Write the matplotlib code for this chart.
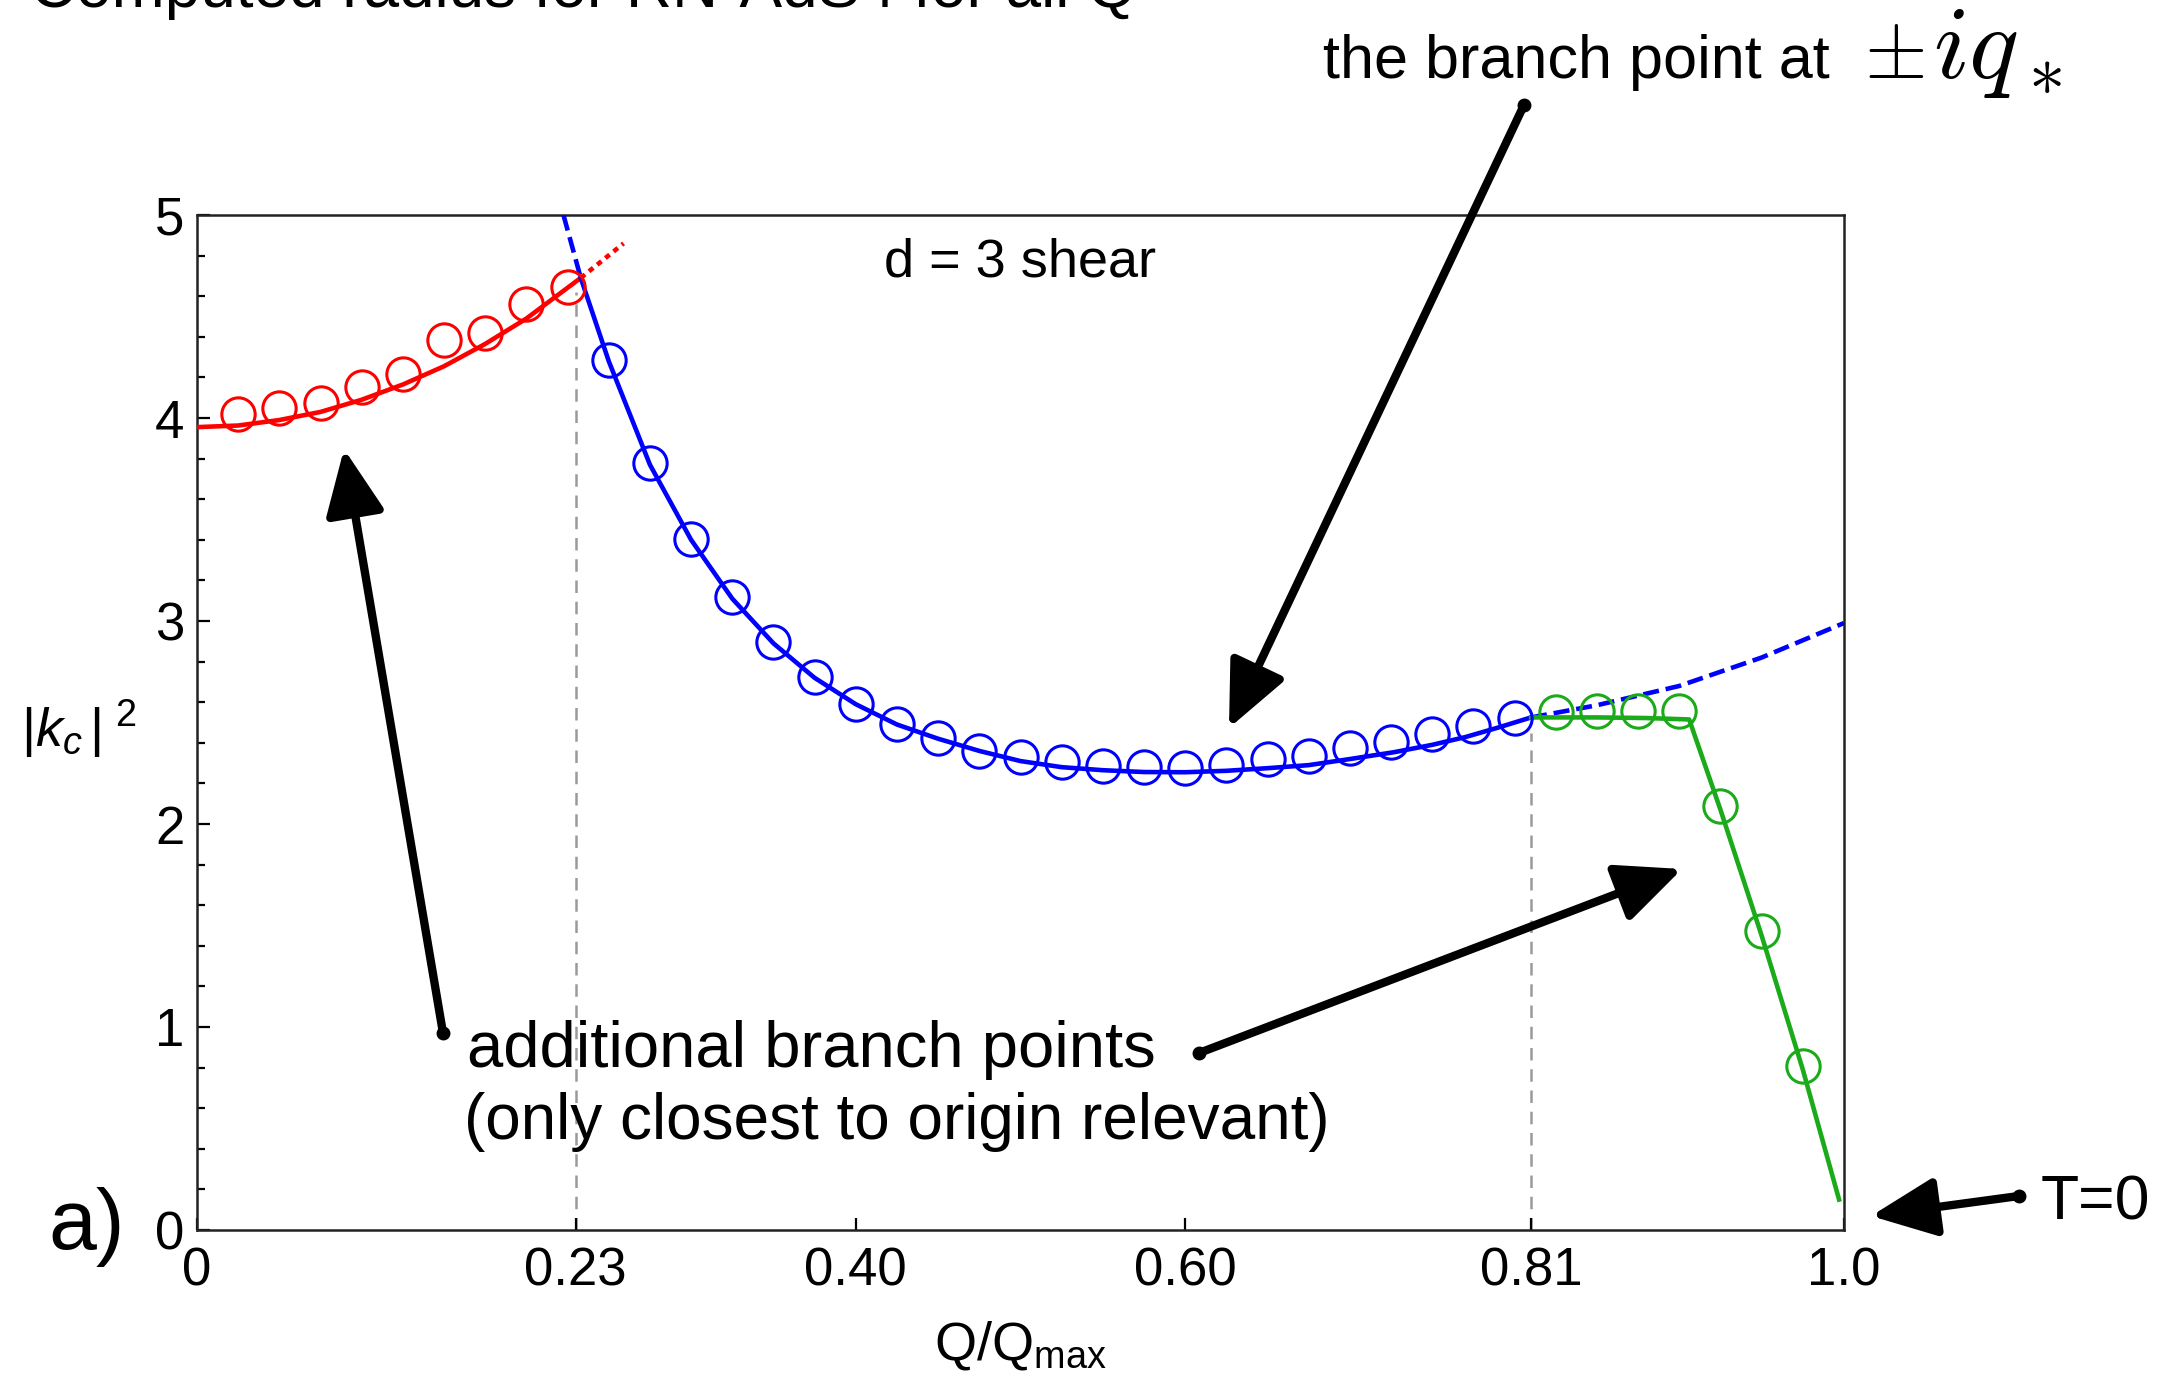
import matplotlib
matplotlib.use("Agg")
import matplotlib.pyplot as plt
from matplotlib.patches import FancyArrowPatch
from matplotlib.lines import Line2D
from matplotlib.ticker import MultipleLocator

plt.rcParams["font.family"] = ["Liberation Sans", "DejaVu Sans"]
plt.rcParams["mathtext.fontset"] = "custom"
plt.rcParams["mathtext.rm"] = "Liberation Sans"
plt.rcParams["mathtext.it"] = "Liberation Sans:italic"
plt.rcParams["mathtext.bf"] = "Liberation Sans:bold"

# --- computed |k_c|^2 samples (circles) ---
red_q = [0.025, 0.05, 0.075, 0.10, 0.125, 0.15, 0.175, 0.20, 0.225]
red_k = [4.02, 4.047, 4.076, 4.155, 4.218, 4.382, 4.42, 4.56, 4.644]

blue_q = [0.25, 0.275, 0.30, 0.325, 0.35, 0.375, 0.40, 0.425, 0.45, 0.475, 0.50,
          0.525, 0.55, 0.575, 0.60, 0.625, 0.65, 0.675, 0.70, 0.725, 0.75, 0.775, 0.80]
blue_k = [4.288, 3.779, 3.406, 3.118, 2.896, 2.723, 2.592, 2.494, 2.425, 2.362, 2.329,
          2.304, 2.288, 2.28, 2.277, 2.29, 2.318, 2.336, 2.373, 2.403, 2.441, 2.483, 2.52]

green_q = [0.825, 0.85, 0.875, 0.90, 0.925, 0.95, 0.975]
green_k = [2.55, 2.555, 2.556, 2.558, 2.09, 1.475, 0.806]

# --- fitted branch-point curves ---
red_fit_q = [0.0, 0.025, 0.05, 0.075, 0.10, 0.125, 0.15, 0.175, 0.20, 0.233]
red_fit_k = [3.955, 3.963, 3.99, 4.03, 4.09, 4.165, 4.255, 4.365, 4.49, 4.69]
red_ext_q = [0.233, 0.246, 0.259]
red_ext_k = [4.69, 4.775, 4.86]

blue_fit_q = [0.233, 0.25, 0.275, 0.30, 0.325, 0.35, 0.375, 0.40, 0.425, 0.45, 0.475,
              0.50, 0.525, 0.55, 0.575, 0.60, 0.625, 0.65, 0.675, 0.70, 0.727, 0.75,
              0.77, 0.79, 0.81]
blue_fit_k = [4.69, 4.28, 3.77, 3.40, 3.11, 2.89, 2.72, 2.59, 2.49, 2.42, 2.36,
              2.31, 2.28, 2.265, 2.256, 2.255, 2.262, 2.275, 2.29, 2.32, 2.354, 2.39,
              2.428, 2.475, 2.525]
blue_top_q = [0.2225, 0.233]
blue_top_k = [5.0, 4.69]
blue_ext_q = [0.81, 0.85, 0.90, 0.95, 1.0]
blue_ext_k = [2.525, 2.585, 2.68, 2.82, 2.99]

green_fit_q = [0.81, 0.85, 0.88, 0.906, 0.925, 0.95, 0.975, 0.997]
green_fit_k = [2.525, 2.525, 2.522, 2.515, 2.07, 1.45, 0.79, 0.15]

# transition values of Q/Q_max
q_switch = [0.23, 0.81]
k_switch = [4.62, 2.45]

x_ticks = [0, 0.23, 0.40, 0.60, 0.81, 1.0]
x_labels = ["0", "0.23", "0.40", "0.60", "0.81", "1.0"]

RED = "#ff0000"
BLUE = "#0000ff"
GREEN = "#1aaa1a"

W, H = 2173, 1382
fig = plt.figure(figsize=(W / 100, H / 100), dpi=100)
ax = fig.add_axes([197 / W, 1 - 1230 / H, (1844 - 197) / W, (1230 - 215) / H])


def px(x, y):
    # pixel position (from top-left) -> figure fraction
    return x / W, 1 - y / H


# vertical markers where the nearest branch point changes
for q, k in zip(q_switch, k_switch):
    ax.plot([q, q], [0, k], color="#9a9a9a", lw=1.8, dashes=(5, 3.5), zorder=1)

ax.plot(red_fit_q, red_fit_k, color=RED, lw=3.3, zorder=3)
ax.plot(red_ext_q, red_ext_k, color=RED, lw=3.3, dashes=(1.2, 1.1), zorder=3)
ax.plot(blue_fit_q, blue_fit_k, color=BLUE, lw=3.3, zorder=3)
ax.plot(blue_top_q, blue_top_k, color=BLUE, lw=3.3, dashes=(3.5, 1.5), zorder=3)
ax.plot(blue_ext_q, blue_ext_k, color=BLUE, lw=3.3, dashes=(3.5, 1.5), zorder=3)
ax.plot(green_fit_q, green_fit_k, color=GREEN, lw=3.3, zorder=3)

for q, k, c in [(red_q, red_k, RED), (blue_q, blue_k, BLUE), (green_q, green_k, GREEN)]:
    ax.plot(q, k, ls="none", marker="o", ms=24, mfc="none", mec=c, mew=2.2, zorder=4)

ax.set_xlim(0, 1.0)
ax.set_ylim(0, 5)
ax.set_xticks(x_ticks)
ax.set_xticklabels(x_labels)
ax.yaxis.set_major_locator(MultipleLocator(1))
ax.yaxis.set_minor_locator(MultipleLocator(0.2))
ax.tick_params(which="both", direction="in", top=False, right=False, width=1.6, colors="k")
ax.tick_params(axis="x", which="major", length=9, pad=12, labelsize=38)
ax.tick_params(axis="y", which="major", length=9, pad=9, labelsize=38)
ax.tick_params(axis="y", which="minor", length=6)
for s in ax.spines.values():
    s.set_linewidth(1.8)
    s.set_color("#222222")

ax.set_xlabel(r"Q/Q$_{\mathrm{max}}$", fontsize=39)
ax.xaxis.set_label_coords(0.5, -0.088)
ax.set_ylabel(r"$|k_c\,|^{\ 2}$", fontsize=39, rotation=0, va="center", ha="center")
ax.yaxis.set_label_coords(-0.072, 0.494)

ax.text(0.5, 0.953, "d = 3 shear", transform=ax.transAxes, ha="center", va="center", fontsize=39)
ax.text(-0.0905, -0.019, "a)", transform=ax.transAxes, ha="left", va="baseline", fontsize=62)

# annotations around the axes
fig.text(*px(30, 7), "Computed radius for RN-AdS4 for all Q", fontsize=46, va="baseline")
fig.text(*px(1323, 78), "the branch point at", fontsize=44, va="baseline")
fig.text(*px(1864, 78), r"$\pm$", fontsize=58, va="baseline", math_fontfamily="cm")
fig.text(*px(1933, 78), r"$iq_*$", fontsize=75, va="baseline", math_fontfamily="cm")
fig.text(*px(467, 1067), "additional branch points", fontsize=47, va="baseline", zorder=5)
fig.text(*px(464, 1139), "(only closest to origin relevant)", fontsize=46, va="baseline", zorder=5)
fig.text(*px(2041, 1220), "T=0", fontsize=45, va="baseline")


def arrow(tail, head):
    fig.add_artist(FancyArrowPatch(px(*tail), px(*head), transform=fig.transFigure,
                                   arrowstyle="-|>,head_length=1.0,head_width=0.45",
                                   mutation_scale=40, lw=6, color="k",
                                   shrinkA=0, shrinkB=0))
    tx, ty = px(*tail)
    fig.add_artist(Line2D([tx], [ty], transform=fig.transFigure, marker="o", ms=9, color="k"))


arrow((443, 1033), (344, 449))
arrow((1199, 1053), (1682, 869))
arrow((1524, 105), (1229, 728))
arrow((2019, 1196), (1871, 1216))

fig.savefig("out.png", dpi=100)
